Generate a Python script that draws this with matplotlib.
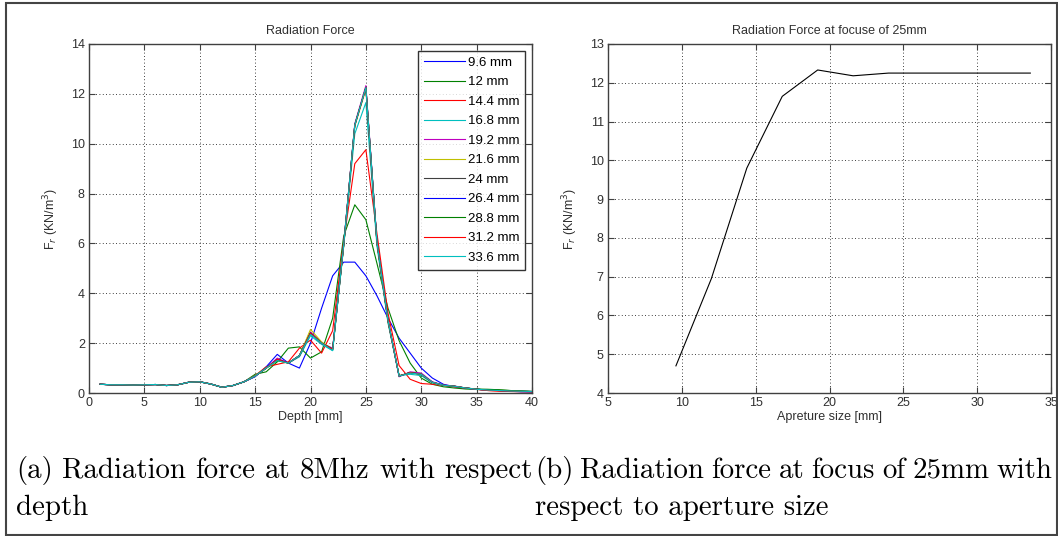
import numpy as np
import matplotlib
matplotlib.use("Agg")
import matplotlib.pyplot as plt
from matplotlib.patches import Rectangle

# ---- data ------------------------------------------------------------------
depth = list(range(1, 41))   # mm

# shared near-field part (depth 1..14), all apertures overlap here
near = [0.35, 0.33, 0.33, 0.32, 0.33, 0.34, 0.30, 0.33, 0.43, 0.45,
        0.36, 0.23, 0.30, 0.45]

# depth 15..40 for each aperture
f_9_6  = [0.65, 1.05, 1.55, 1.20, 1.00, 2.00, 3.40, 4.70, 5.25, 5.25, 4.70, 3.90, 3.00,
          2.20, 1.60, 1.00, 0.60, 0.35, 0.25, 0.20, 0.15, 0.12, 0.10, 0.08, 0.06, 0.05]
f_12   = [0.75, 0.85, 1.25, 1.80, 1.85, 1.40, 1.65, 3.00, 6.30, 7.55, 6.95, 5.20, 3.40,
          2.10, 1.20, 0.60, 0.35, 0.25, 0.20, 0.16, 0.14, 0.13, 0.12, 0.10, 0.08, 0.06]
f_14_4 = [0.70, 1.05, 1.15, 1.25, 1.80, 2.12, 1.60, 2.50, 6.10, 9.20, 9.76, 6.40, 3.20,
          1.10, 0.55, 0.38, 0.35, 0.30, 0.25, 0.20, 0.15, 0.10, 0.08, 0.06, 0.05, 0.05]
f_16_8 = [0.68, 1.00, 1.35, 1.20, 1.45, 2.30, 1.95, 1.70, 5.90, 10.40, 11.65, 5.90, 2.80,
          0.70, 0.75, 0.70, 0.40, 0.30, 0.27, 0.20, 0.15, 0.12, 0.10, 0.08, 0.07, 0.06]
f_19_2 = [0.68, 1.00, 1.40, 1.20, 1.50, 2.45, 2.00, 1.80, 6.00, 10.80, 12.33, 6.10, 2.90,
          0.65, 0.85, 0.80, 0.45, 0.32, 0.28, 0.20, 0.15, 0.12, 0.10, 0.08, 0.07, 0.06]
f_21_6 = [0.70, 1.00, 1.30, 1.20, 1.50, 2.55, 2.05, 1.75, 5.90, 10.70, 12.18, 6.00, 2.85,
          0.70, 0.80, 0.75, 0.42, 0.30, 0.27, 0.20, 0.15, 0.12, 0.10, 0.08, 0.07, 0.06]
f_24   = [0.68, 1.00, 1.35, 1.20, 1.50, 2.40, 2.00, 1.75, 5.95, 10.75, 12.25, 6.05, 2.90,
          0.68, 0.82, 0.75, 0.43, 0.31, 0.27, 0.20, 0.15, 0.12, 0.10, 0.08, 0.07, 0.06]
f_26_4 = [0.68, 1.00, 1.35, 1.20, 1.50, 2.40, 2.00, 1.75, 5.95, 10.75, 12.25, 6.05, 2.90,
          0.68, 0.82, 0.75, 0.43, 0.31, 0.27, 0.20, 0.15, 0.12, 0.10, 0.07, 0.05, 0.05]
f_28_8 = [0.68, 1.00, 1.30, 1.20, 1.50, 2.40, 2.00, 1.75, 5.95, 10.75, 12.25, 6.05, 2.90,
          0.68, 0.82, 0.75, 0.43, 0.31, 0.27, 0.20, 0.16, 0.15, 0.13, 0.10, 0.08, 0.06]
f_31_2 = [0.68, 1.00, 1.35, 1.20, 1.50, 2.40, 2.00, 1.75, 5.95, 10.75, 12.25, 6.05, 2.90,
          0.68, 0.82, 0.75, 0.43, 0.31, 0.27, 0.20, 0.15, 0.10, 0.08, 0.07, 0.06, 0.05]
f_33_6 = [0.68, 1.00, 1.30, 1.20, 1.50, 2.35, 2.00, 1.70, 5.95, 10.75, 12.25, 6.05, 2.90,
          0.68, 0.80, 0.75, 0.43, 0.31, 0.27, 0.20, 0.15, 0.12, 0.10, 0.08, 0.07, 0.06]

labels = ["9.6 mm", "12 mm", "14.4 mm", "16.8 mm", "19.2 mm", "21.6 mm",
          "24 mm", "26.4 mm", "28.8 mm", "31.2 mm", "33.6 mm"]
series = [f_9_6, f_12, f_14_4, f_16_8, f_19_2, f_21_6,
          f_24, f_26_4, f_28_8, f_31_2, f_33_6]

# force at the 25 mm focus vs aperture
aperture = [9.6, 12, 14.4, 16.8, 19.2, 21.6, 24, 26.4, 28.8, 31.2, 33.6]
focus_force = [4.7, 6.95, 9.8, 11.65, 12.33, 12.18, 12.25, 12.25, 12.25, 12.25, 12.25]

# old MATLAB color order
colors = ["#0000ff", "#008000", "#ff0000", "#00bfbf", "#bf00bf", "#bfbf00",
          "#404040", "#0000ff", "#008000", "#ff0000", "#00bfbf"]

# ---- figure -------------------------------------------------------------------
W, H = 1058, 536
fig = plt.figure(figsize=(W / 100, H / 100), dpi=100)
plt.rcParams['font.family'] = ['Liberation Sans', 'DejaVu Sans']


def px_axes(x0, y0, x1, y1):
    # pixel box (top-left origin) -> figure fraction
    return fig.add_axes([x0 / W, (H - y1) / H, (x1 - x0) / W, (y1 - y0) / H])


def matlab_style(ax):
    for s in ax.spines.values():
        s.set_color("#404040")
        s.set_linewidth(1.0)
    ax.tick_params(direction="in", top=True, right=True, length=4, width=0.8,
                   colors="#404040", labelsize=9, labelcolor="#303030", pad=3)
    ax.grid(True, color="black", linestyle=(0, (1, 3)), linewidth=0.6)
    ax.set_axisbelow(True)


TXT = dict(fontsize=9, color="#303030")

# (a) force vs depth
ax1 = px_axes(89, 44, 532, 393)
for lab, vals, c in zip(labels, series, colors):
    ax1.plot(depth, near + vals, color=c, lw=0.8, label=lab)
ax1.set_xlim(0, 40)
ax1.set_ylim(0, 14)
ax1.set_xticks(range(0, 41, 5))
ax1.set_yticks(range(0, 15, 2))
matlab_style(ax1)
ax1.set_title("Radiation Force", pad=7, **TXT)
ax1.set_xlabel("Depth [mm]", labelpad=1, **TXT)
ax1.set_ylabel(r"F$_r$ (KN/m$^3$)", labelpad=7, **TXT)
leg = ax1.legend(loc="upper right", fontsize=9.5, frameon=True, fancybox=False,
                 handlelength=3.1, handletextpad=0.25, labelspacing=0.55,
                 borderaxespad=0.5, borderpad=0.45)
leg.get_frame().set_edgecolor("black")
leg.get_frame().set_linewidth(1.0)

# (b) force at focus vs aperture
ax2 = px_axes(608, 44, 1051, 393)
ax2.plot(aperture, focus_force, color="black", lw=0.8)
ax2.set_xlim(5, 35)
ax2.set_ylim(4, 13)
ax2.set_xticks(range(5, 36, 5))
ax2.set_yticks(range(4, 14))
matlab_style(ax2)
ax2.set_title("Radiation Force at focuse of 25mm", pad=7, **TXT)
ax2.set_xlabel("Apreture size [mm]", labelpad=1, **TXT)
ax2.set_ylabel(r"F$_r$ (KN/m$^3$)", labelpad=7, **TXT)

# captions (LaTeX-like serif, justified like the original minipages)
cap = dict(fontsize=20.8, family="cmr10", color="black", va="baseline", ha="left")
renderer = fig.canvas.get_renderer()


def justified(line, x0, x1, y):
    words = line.split()
    items = [fig.text(0, (H - y) / H, w, **cap) for w in words]
    widths = [t.get_window_extent(renderer).width for t in items]
    gap = (x1 - x0 - sum(widths)) / (len(words) - 1)
    x = x0
    for t, w in zip(items, widths):
        t.set_x(x / W)
        x += w + gap


justified("(a) Radiation force at 8Mhz with respect", 16, 533, 478)
fig.text(16 / W, (H - 515) / H, "depth", **cap)
justified("(b) Radiation force at focus of 25mm with", 535, 1052, 478)
fig.text(535 / W, (H - 515) / H, "respect to aperture size", **cap)

# outer frame
fig.patches.append(Rectangle((6 / W, (H - 534.5) / H), 1051 / W, 531.5 / H,
                             transform=fig.transFigure, fill=False,
                             edgecolor="#444444", linewidth=1.5))

fig.savefig("out.png", dpi=100)
